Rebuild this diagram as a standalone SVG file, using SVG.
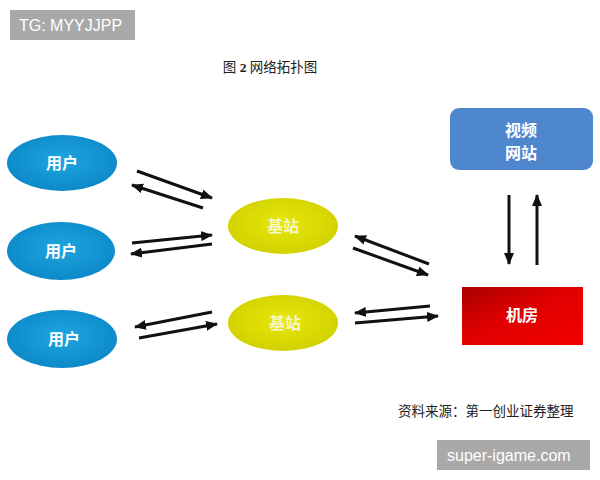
<svg xmlns="http://www.w3.org/2000/svg" width="600" height="480" viewBox="0 0 600 480">
<style>
.cap{font-family:"Liberation Serif","Noto Sans CJK SC",serif;font-size:13.5px;fill:#222}
.lbl{font-family:"Liberation Serif","Noto Sans CJK SC",serif;font-size:16px;font-weight:bold;text-anchor:middle}
.badge{fill:#a9a9a9}
.btxt{font-family:"Liberation Sans","Noto Sans",sans-serif;font-size:16px;fill:#fff}
.ar{stroke:#111;stroke-width:3;fill:none;marker-end:url(#ah)}
</style>
<defs>
<marker id="ah" markerUnits="userSpaceOnUse" markerWidth="12" markerHeight="10" refX="11" refY="5" orient="auto">
<path d="M0,0 L12,5 L0,10 z" fill="#111"/>
</marker>
<radialGradient id="gb" cx="0.5" cy="0.45" r="0.6">
<stop offset="0" stop-color="#1ea6e0"/><stop offset="1" stop-color="#0b86c6"/>
</radialGradient>
<radialGradient id="gy" cx="0.5" cy="0.45" r="0.6">
<stop offset="0" stop-color="#e8e80a"/><stop offset="1" stop-color="#cfcf00"/>
</radialGradient>
<linearGradient id="gr" x1="0" y1="0" x2="1" y2="1">
<stop offset="0" stop-color="#a80000"/><stop offset="0.45" stop-color="#e00000"/><stop offset="1" stop-color="#f20000"/>
</linearGradient>
</defs>
<rect width="600" height="480" fill="#fff"/>
<g id="badge-top"><rect class="badge" x="10" y="10" width="125" height="30"/><text class="btxt" x="19" y="31">TG: MYYJJPP</text></g>
<text class="cap" x="270" y="72" text-anchor="middle" font-size="14">图 <tspan font-weight="bold">2</tspan> 网络拓扑图</text>
<g id="user1"><ellipse cx="62" cy="163" rx="55" ry="28" fill="url(#gb)"/><text class="lbl" x="62" y="169" fill="#fff">用户</text></g>
<g id="user2"><ellipse cx="61" cy="251" rx="54" ry="29" fill="url(#gb)"/><text class="lbl" x="61" y="257" fill="#fff">用户</text></g>
<g id="user3"><ellipse cx="62" cy="339" rx="55" ry="29" fill="url(#gb)"/><text class="lbl" x="64" y="345" fill="#fff">用户</text></g>
<g id="base1"><ellipse cx="283" cy="226" rx="55" ry="28" fill="url(#gy)"/><text class="lbl" x="283" y="232" fill="#f6f6cc">基站</text></g>
<g id="base2"><ellipse cx="283" cy="323" rx="55" ry="28" fill="url(#gy)"/><text class="lbl" x="285" y="329" fill="#f6f6cc">基站</text></g>
<g id="video"><rect x="450" y="108" width="143" height="62" rx="9" fill="#4f87cf"/><text class="lbl" x="521" y="136" fill="#fff">视频</text><text class="lbl" x="521" y="159" fill="#fff">网站</text></g>
<g id="room"><rect x="462" y="287" width="121" height="58" fill="url(#gr)"/><text class="lbl" x="522" y="321" fill="#fff">机房</text></g>
<g id="connectors">
<line class="ar" x1="137" y1="171" x2="212" y2="198"/>
<line class="ar" x1="203" y1="208" x2="132" y2="185"/>
<line class="ar" x1="132" y1="243" x2="212" y2="235"/>
<line class="ar" x1="212" y1="244" x2="131" y2="254"/>
<line class="ar" x1="212" y1="312" x2="135" y2="327"/>
<line class="ar" x1="139" y1="338" x2="217" y2="324"/>
<line class="ar" x1="429" y1="264" x2="355" y2="236"/>
<line class="ar" x1="353" y1="248" x2="428" y2="275"/>
<line class="ar" x1="430" y1="306" x2="355" y2="313"/>
<line class="ar" x1="355" y1="323" x2="438" y2="316"/>
<line class="ar" x1="509" y1="195" x2="509" y2="264"/>
<line class="ar" x1="537" y1="265" x2="537" y2="195"/>
</g>
<text class="cap" x="398" y="416">资料来源：第一创业证券整理</text>
<g id="badge-bottom"><rect class="badge" x="437" y="440" width="153" height="30"/><text class="btxt" x="447" y="461" font-size="17">super-igame.com</text></g>
</svg>
